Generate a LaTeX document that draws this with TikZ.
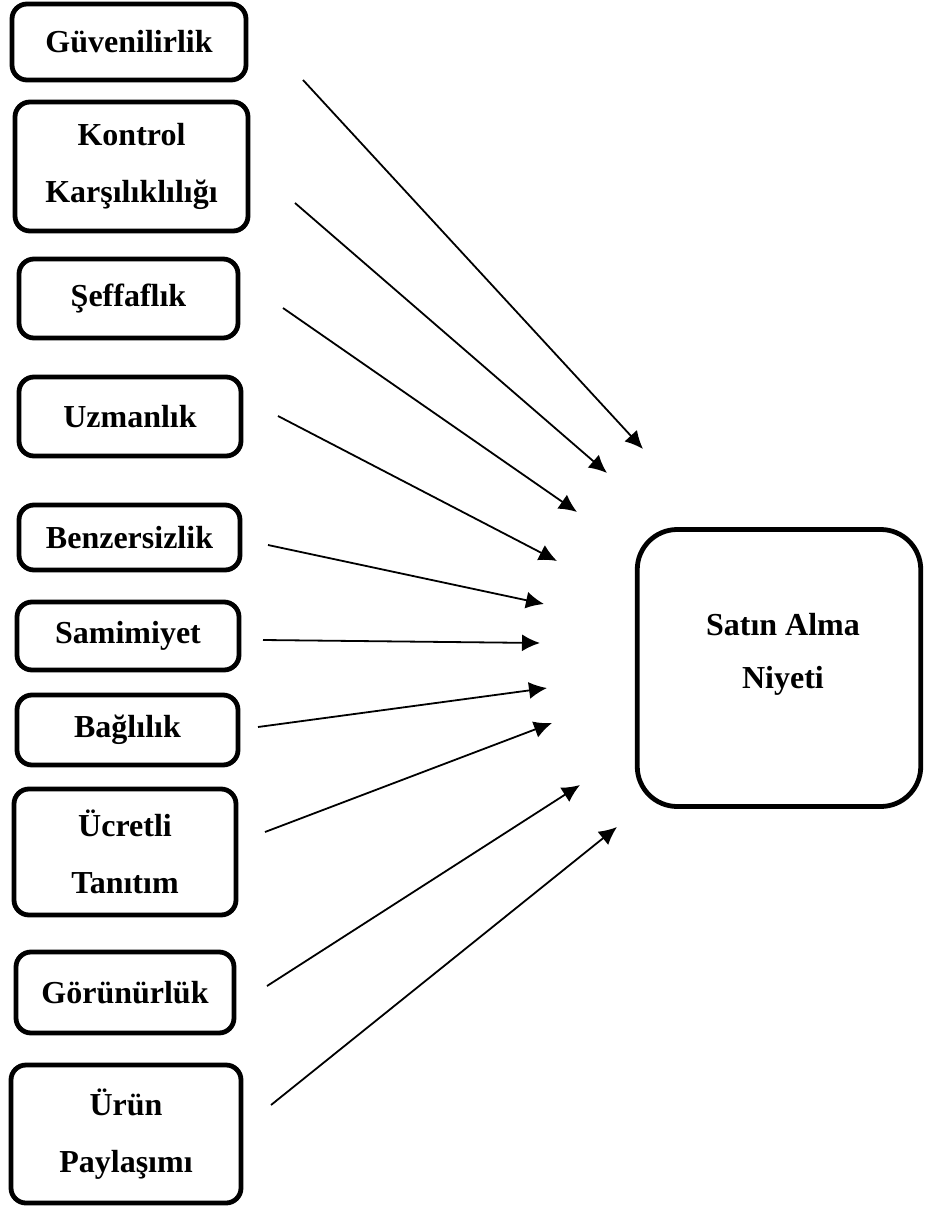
\documentclass[tikz,border=0pt]{standalone}
\usepackage{fontspec}
\setmainfont{Liberation Serif}
\usetikzlibrary{arrows.meta}
\tikzstyle{block} = [draw, rectangle, rounded corners=7.5pt, line width=2.4pt, inner sep=0pt, align=center, font=\fontsize{16}{28.5}\selectfont\bfseries]
\tikzstyle{goal} = [block, rounded corners=20pt]
\tikzstyle{input} = [coordinate]
\tikzstyle{output} = [coordinate]
\tikzstyle{link} = [-{Latex[length=9pt,width=8.5pt]}, line width=0.9pt]

\begin{document}
\begin{tikzpicture}[x=0.5pt, y=-0.5pt]
    \useasboundingbox (0,0) rectangle (925,1209);

    \node[block, name=guven, minimum width=117pt, minimum height=38pt] at (129,42) {Güvenilirlik};
    \node[block, name=kontrol, minimum width=116.5pt, minimum height=64.5pt] at (131.5,166.5) {Kontrol\\Karşılıklılığı};
    \node[block, name=seffaf, minimum width=109.5pt, minimum height=39.5pt] at (128.5,298.5) {Şeffaflık};
    \node[block, name=uzman, minimum width=111pt, minimum height=39.5pt] at (130,416.5) {Uzmanlık};
    \node[block, name=benzer, minimum width=110.5pt, minimum height=32.5pt] at (129.5,537.5) {Benzersizlik};
    \node[block, name=samimi, minimum width=111pt, minimum height=34pt] at (128,636) {Samimiyet};
    \node[block, name=bagli, minimum width=110.5pt, minimum height=35pt] at (127.5,730) {Bağlılık};
    \node[block, name=ucret, minimum width=111pt, minimum height=63pt] at (125,852) {Ücretli\\Tanıtım};
    \node[block, name=gorunur, minimum width=109pt, minimum height=40.5pt] at (125,992.5) {Görünürlük};
    \node[block, name=urun, minimum width=115pt, minimum height=69pt] at (126,1134) {Ürün\\Paylaşımı};

    \node[goal, name=niyet, minimum width=141.75pt, minimum height=138.5pt,
        label={[align=center, font=\fontsize{16}{26.5}\selectfont\bfseries, yshift=7pt, xshift=2pt]center:{Satın Alma\\Niyeti}}] at (779,668) {};

    % free ends of the arrows
    \node[input, name=guvenFrom] at (303,80) {};
    \node[input, name=kontrolFrom] at (295,203) {};
    \node[input, name=seffafFrom] at (283,308) {};
    \node[input, name=uzmanFrom] at (278,416) {};
    \node[input, name=benzerFrom] at (268,545) {};
    \node[input, name=samimiFrom] at (263,640) {};
    \node[input, name=bagliFrom] at (258,727) {};
    \node[input, name=ucretFrom] at (265,832) {};
    \node[input, name=gorunurFrom] at (267,986) {};
    \node[input, name=urunFrom] at (271,1105) {};

    \node[output, name=guvenTo] at (643,449) {};
    \node[output, name=kontrolTo] at (607,473) {};
    \node[output, name=seffafTo] at (577,512) {};
    \node[output, name=uzmanTo] at (557,561) {};
    \node[output, name=benzerTo] at (544,604) {};
    \node[output, name=samimiTo] at (540,643) {};
    \node[output, name=bagliTo] at (547,688) {};
    \node[output, name=ucretTo] at (552,723) {};
    \node[output, name=gorunurTo] at (580,785) {};
    \node[output, name=urunTo] at (617,827) {};

    \draw[link] (guvenFrom) -- (guvenTo);
    \draw[link] (kontrolFrom) -- (kontrolTo);
    \draw[link] (seffafFrom) -- (seffafTo);
    \draw[link] (uzmanFrom) -- (uzmanTo);
    \draw[link] (benzerFrom) -- (benzerTo);
    \draw[link] (samimiFrom) -- (samimiTo);
    \draw[link] (bagliFrom) -- (bagliTo);
    \draw[link] (ucretFrom) -- (ucretTo);
    \draw[link] (gorunurFrom) -- (gorunurTo);
    \draw[link] (urunFrom) -- (urunTo);
\end{tikzpicture}
\end{document}
